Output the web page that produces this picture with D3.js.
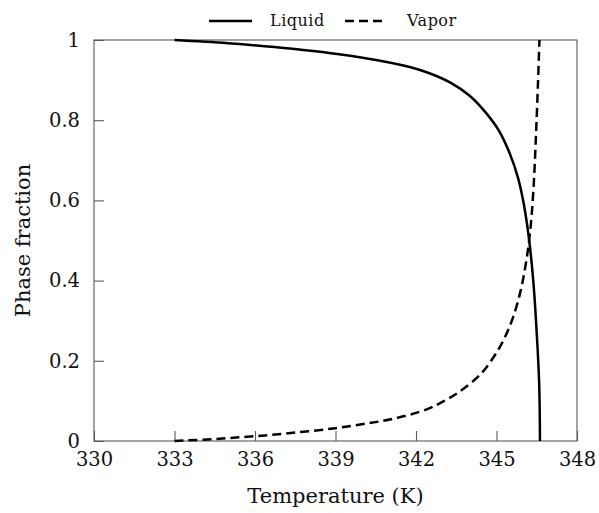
<!DOCTYPE html>
<html>
<head>
<meta charset="utf-8">
<script src="https://cdn.jsdelivr.net/npm/d3@7"></script>
<style>
  html, body { margin: 0; padding: 0; background: #fff; }
  svg { display: block; }
  text { font-family: "DejaVu Serif", serif; fill: #111; }
</style>
</head>
<body>
<svg id="chart" width="599" height="513"></svg>
<script>
// ---- data ----
const liquidT = [333.0, 335.0, 337.4, 339.9, 341.8, 342.5, 343.3, 344.0, 344.6, 345.1, 345.5, 345.8, 346.0, 346.2, 346.37, 346.5, 346.59, 346.62];
const liquidV = [1.000, 0.992, 0.978, 0.957, 0.932, 0.917, 0.893, 0.861, 0.819, 0.773, 0.716, 0.657, 0.597, 0.510, 0.400, 0.268, 0.144, 0.000];
const vaporT = [333.0, 334.5, 336.0, 337.5, 339.0, 340.2, 341.2, 342.4, 343.0, 343.6, 344.4, 344.9, 345.25, 345.6, 345.9, 346.1, 346.25, 346.37, 346.47, 346.55, 346.6];
const vaporV = [0.000, 0.005, 0.012, 0.021, 0.032, 0.044, 0.056, 0.079, 0.098, 0.122, 0.166, 0.210, 0.250, 0.305, 0.375, 0.445, 0.520, 0.620, 0.760, 0.900, 1.000];
const xTicks = [330, 333, 336, 339, 342, 345, 348];
const yTicks = [0, 0.2, 0.4, 0.6, 0.8, 1];
const seriesNames = ["Liquid", "Vapor"];
const xTitle = "Temperature (K)";
const yTitle = "Phase fraction";

// ---- layout ----
const svg = d3.select("#chart");
const L = 94, R = 577, T = 40, B = 441;
const x = d3.scaleLinear().domain([330, 348]).range([L, R]);
const y = d3.scaleLinear().domain([0, 1]).range([B, T]);
const axisColor = "#5a5a5a";
const FONT = "DejaVu Serif";

// frame
svg.append("rect").attr("x", L).attr("y", T).attr("width", R - L).attr("height", B - T)
  .attr("fill", "none").attr("stroke", axisColor).attr("stroke-width", 1.1);

// x axis
const gx = svg.append("g").attr("transform", `translate(0,${B})`)
  .call(d3.axisBottom(x).tickValues(xTicks).tickFormat(d3.format("d"))
    .tickSizeInner(-10).tickSizeOuter(0).tickPadding(11));
gx.select(".domain").remove();
gx.selectAll(".tick line").attr("stroke", axisColor).attr("stroke-width", 1.1);
gx.selectAll(".tick text").attr("font-size", 19.5).attr("font-family", FONT).attr("fill", "#111");

// y axis
const gy = svg.append("g").attr("transform", `translate(${L},0)`)
  .call(d3.axisLeft(y).tickValues(yTicks).tickFormat(d3.format("~g"))
    .tickSizeInner(-10).tickSizeOuter(0).tickPadding(14));
gy.select(".domain").remove();
gy.selectAll(".tick line").attr("stroke", axisColor).attr("stroke-width", 1.1);
gy.selectAll(".tick text").attr("font-size", 19.5).attr("font-family", FONT).attr("fill", "#111");

// titles
svg.append("text").attr("x", (L + R) / 2).attr("y", 503).attr("text-anchor", "middle")
  .attr("font-size", 21).text(xTitle);
svg.append("text").attr("transform", `translate(30,${(T + B) / 2}) rotate(-90)`)
  .attr("text-anchor", "middle").attr("font-size", 21).text(yTitle);

// lines
const line = d3.line().x(d => x(d[0])).y(d => y(d[1])).curve(d3.curveCatmullRom.alpha(0.5));
const liquid = liquidT.map((t, i) => [t, liquidV[i]]);
const vapor = vaporT.map((t, i) => [t, vaporV[i]]);
svg.append("path").datum(liquid).attr("d", line).attr("fill", "none")
  .attr("stroke", "#000").attr("stroke-width", 2.5);
svg.append("path").datum(vapor).attr("d", line).attr("fill", "none")
  .attr("stroke", "#000").attr("stroke-width", 2.5).attr("stroke-dasharray", "9,5");

// legend
const lg = svg.append("g");
lg.append("line").attr("x1", 209).attr("x2", 252).attr("y1", 21).attr("y2", 21)
  .attr("stroke", "#000").attr("stroke-width", 2.5);
lg.append("text").attr("x", 270).attr("y", 26).attr("font-size", 16).attr("letter-spacing", 0.5).text(seriesNames[0]);
lg.append("line").attr("x1", 345).attr("x2", 382).attr("y1", 21).attr("y2", 21)
  .attr("stroke", "#000").attr("stroke-width", 2.5).attr("stroke-dasharray", "9,5");
lg.append("text").attr("x", 407).attr("y", 26).attr("font-size", 16).attr("letter-spacing", 0.5).text(seriesNames[1]);
</script>
</body>
</html>
